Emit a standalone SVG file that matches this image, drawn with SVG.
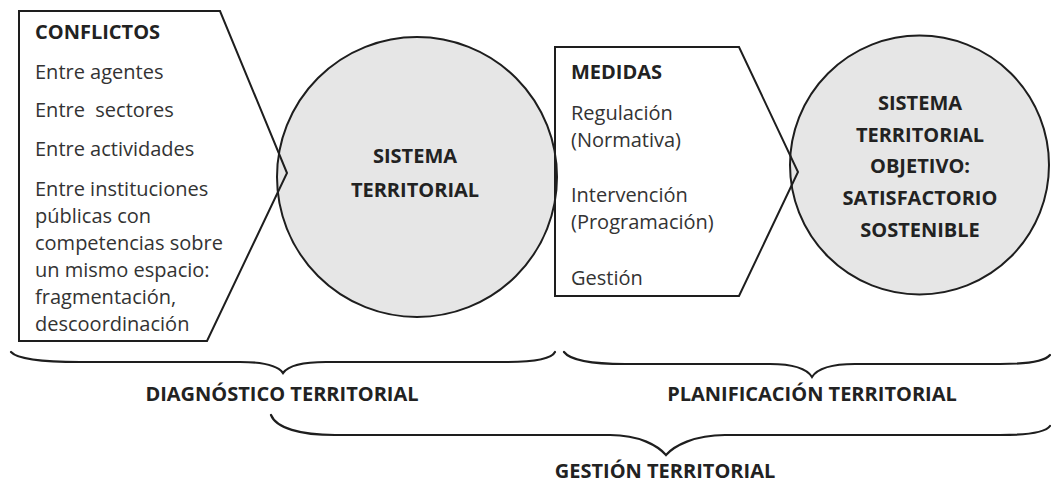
<svg xmlns="http://www.w3.org/2000/svg" width="1051" height="483" viewBox="0 0 1051 483">
<style>
.shape{fill:none;stroke:#1e1e1e;stroke-width:2;stroke-linejoin:miter}
.circ{fill:#e6e6e6;stroke:#1e1e1e;stroke-width:2}
.brace{fill:none;stroke:#1e1e1e;stroke-width:2.2;stroke-linecap:round}
.t{font-family:"Open Sans","Noto Sans",sans-serif;font-size:20px;fill:#333}
.b{font-family:"Open Sans","Noto Sans",sans-serif;font-size:20px;font-weight:bold;fill:#222}
.c{text-anchor:middle}
</style>
<rect width="1051" height="483" fill="#fff"/>
<g id="sistema-territorial">
<circle class="circ" cx="417" cy="177" r="140"/>
<text class="b c" x="415" y="163">SISTEMA</text>
<text class="b c" x="415" y="197">TERRITORIAL</text>
</g>
<g id="sistema-objetivo">
<circle class="circ" cx="919.5" cy="165" r="129.5"/>
<text class="b c" x="920" y="110">SISTEMA</text>
<text class="b c" x="920" y="142">TERRITORIAL</text>
<text class="b c" x="920" y="173">OBJETIVO:</text>
<text class="b c" x="920" y="205">SATISFACTORIO</text>
<text class="b c" x="920" y="237">SOSTENIBLE</text>
</g>
<g id="conflictos">
<polygon class="shape" points="19,11 220,11 287,173 207,341 19,341"/>
<text class="b" x="35" y="39">CONFLICTOS</text>
<text class="t" x="35" y="79">Entre agentes</text>
<text class="t" x="35" y="117" xml:space="preserve">Entre  sectores</text>
<text class="t" x="35" y="156">Entre actividades</text>
<text class="t" x="35" y="196">Entre instituciones</text>
<text class="t" x="35" y="223">públicas con</text>
<text class="t" x="35" y="250">competencias sobre</text>
<text class="t" x="35" y="277">un mismo espacio:</text>
<text class="t" x="35" y="304">fragmentación,</text>
<text class="t" x="35" y="331">descoordinación</text>
</g>
<g id="medidas">
<polygon class="shape" points="555,47 739,47 798,172 739,296 555,296"/>
<text class="b" x="571" y="79">MEDIDAS</text>
<text class="t" x="571" y="120">Regulación</text>
<text class="t" x="571" y="147">(Normativa)</text>
<text class="t" x="571" y="202">Intervención</text>
<text class="t" x="571" y="229">(Programación)</text>
<text class="t" x="571" y="285">Gestión</text>
</g>
<g id="connectors">
<path class="brace" d="M11,352 C18,360 45,362 80,362 L240,362 C265,362 278,366 283,373 C288,366 301,362 326,362 L505,362 C538,362 552,358 555,352"/>
<path class="brace" d="M564,352 C570,360 592,364 625,364 L770,364 C795,364 807,369 812,377 C817,369 830,364 855,364 L1000,364 C1032,364 1046,360 1050,355"/>
<path class="brace" d="M271,415 C276,428 300,435 335,435 L610,435 C640,435 658,446 666,455 C674,446 694,435 725,435 L1000,435 C1032,435 1046,432 1050,426"/>
</g>
<g id="labels">
<text class="b c" x="282" y="401">DIAGNÓSTICO TERRITORIAL</text>
<text class="b c" x="812" y="401">PLANIFICACIÓN TERRITORIAL</text>
<text class="b c" x="665" y="478">GESTIÓN TERRITORIAL</text>
</g>
</svg>
